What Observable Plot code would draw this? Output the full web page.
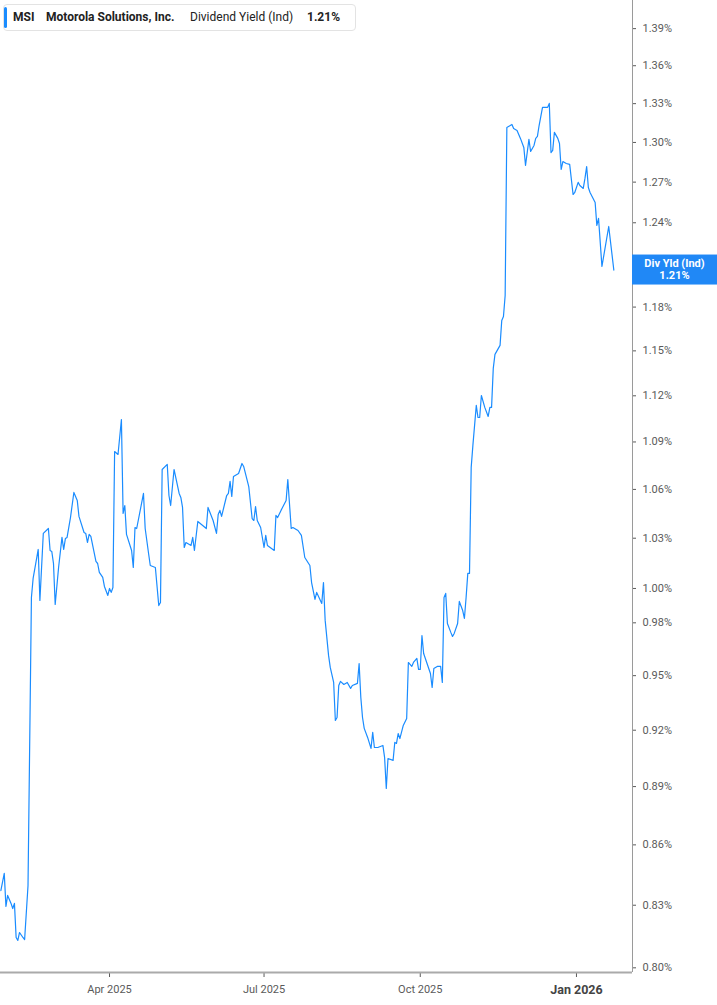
<!DOCTYPE html>
<html>
<head>
<meta charset="utf-8">
<script src="https://cdn.jsdelivr.net/npm/d3@7"></script>
<script src="https://cdn.jsdelivr.net/npm/@observablehq/plot@0.6"></script>
<style>
  html, body { margin: 0; padding: 0; background: #fff; }
  #wrap { position: relative; width: 717px; height: 1005px; font-family: Roboto, "Liberation Sans", sans-serif; }
  #legend { position: absolute; left: 3px; top: 4px; width: 353px; height: 27px; box-sizing: border-box;
            border: 1px solid #e3e3e3; border-radius: 4px; background: #fff; font-size: 12px; color: #222; }
  #legend .bar { position: absolute; left: 0px; top: 2px; width: 3px; height: 21px; background: #1a8cff; border-radius: 2px; }
  #legend span.t { position: absolute; top: 5px; white-space: nowrap; }
  #legend .b { font-weight: bold; }
</style>
</head>
<body>
<div id="wrap">
  <div id="chart"></div>
  <div id="legend"></div>
</div>
<script>
// ---- data ----
const ticker = "MSI";
const company = "Motorola Solutions, Inc.";
const metric = "Dividend Yield (Ind)";
const boxLabel = "Div Yld (Ind)";

const dates = [
  "2025-01-27","2025-01-29","2025-01-30","2025-01-31",
  "2025-02-02","2025-02-03","2025-02-04","2025-02-05","2025-02-06","2025-02-07","2025-02-09","2025-02-10","2025-02-12","2025-02-14","2025-02-15","2025-02-18","2025-02-19","2025-02-21","2025-02-24","2025-02-25","2025-02-26","2025-02-27","2025-02-28",
  "2025-03-02","2025-03-04","2025-03-05","2025-03-06","2025-03-07","2025-03-09","2025-03-11","2025-03-13","2025-03-14","2025-03-17","2025-03-18","2025-03-19","2025-03-20","2025-03-21","2025-03-24","2025-03-25","2025-03-26","2025-03-28","2025-03-29","2025-03-31",
  "2025-04-01","2025-04-02","2025-04-03","2025-04-04","2025-04-06","2025-04-08","2025-04-09","2025-04-10","2025-04-11","2025-04-14","2025-04-15","2025-04-16","2025-04-17","2025-04-21","2025-04-22","2025-04-24","2025-04-25","2025-04-28","2025-04-30",
  "2025-05-01","2025-05-02","2025-05-05","2025-05-06","2025-05-07","2025-05-09","2025-05-12","2025-05-13","2025-05-14","2025-05-15","2025-05-16","2025-05-19","2025-05-20","2025-05-21","2025-05-23","2025-05-28","2025-05-29",
  "2025-06-01","2025-06-03","2025-06-04","2025-06-05","2025-06-06","2025-06-09","2025-06-10","2025-06-11","2025-06-12","2025-06-13","2025-06-16","2025-06-18","2025-06-19","2025-06-22","2025-06-24","2025-06-25","2025-06-26","2025-06-27","2025-06-29",
  "2025-07-01","2025-07-02","2025-07-03","2025-07-07","2025-07-08","2025-07-09","2025-07-11","2025-07-14","2025-07-15","2025-07-17","2025-07-18","2025-07-21","2025-07-23","2025-07-25","2025-07-28","2025-07-29","2025-07-31",
  "2025-08-01","2025-08-04","2025-08-05","2025-08-06","2025-08-08","2025-08-09","2025-08-11","2025-08-12","2025-08-13","2025-08-14","2025-08-15","2025-08-17","2025-08-19","2025-08-21","2025-08-22","2025-08-25","2025-08-26","2025-08-27","2025-08-28","2025-08-29","2025-08-31",
  "2025-09-02","2025-09-03","2025-09-04","2025-09-06","2025-09-09","2025-09-10","2025-09-11","2025-09-12","2025-09-15","2025-09-16","2025-09-17","2025-09-18","2025-09-19","2025-09-21","2025-09-23","2025-09-24","2025-09-26","2025-09-27","2025-09-29","2025-09-30",
  "2025-10-01","2025-10-02","2025-10-03","2025-10-05","2025-10-07","2025-10-08","2025-10-09","2025-10-11","2025-10-13","2025-10-14","2025-10-15","2025-10-16","2025-10-17","2025-10-19","2025-10-20","2025-10-21","2025-10-23","2025-10-24","2025-10-26","2025-10-27","2025-10-28","2025-10-29","2025-10-30","2025-10-31",
  "2025-11-01","2025-11-03","2025-11-04","2025-11-05","2025-11-06","2025-11-08","2025-11-10","2025-11-11","2025-11-12","2025-11-13","2025-11-14","2025-11-17","2025-11-18","2025-11-19","2025-11-20","2025-11-21","2025-11-23","2025-11-24","2025-11-25","2025-11-27","2025-11-29",
  "2025-12-01","2025-12-02","2025-12-04","2025-12-05","2025-12-07","2025-12-08","2025-12-09","2025-12-10","2025-12-12","2025-12-14","2025-12-15","2025-12-16","2025-12-17","2025-12-18","2025-12-19","2025-12-21","2025-12-22","2025-12-23","2025-12-24","2025-12-26","2025-12-28","2025-12-30","2025-12-31",
  "2026-01-02","2026-01-03","2026-01-05","2026-01-06","2026-01-07","2026-01-08","2026-01-09","2026-01-12","2026-01-13","2026-01-14","2026-01-16","2026-01-20","2026-01-23"
];

const yieldPct = [
  0.8372,0.8457,0.8294,0.8348,
  0.8309,0.8284,0.8309,0.8144,0.8130,0.8168,0.8144,0.8134,0.8397,0.9947,1.0059,1.0232,0.9930,1.0329,1.0359,1.0226,1.0220,1.0148,0.9906,
  1.0124,1.0305,1.0232,1.0298,1.0305,1.0426,1.0581,1.0531,1.0433,1.0335,1.0329,1.0274,1.0323,1.0311,1.0160,1.0148,1.0095,1.0065,1.0012,0.9959,
  1.0000,0.9977,1.0006,1.0839,1.0820,1.1045,1.0451,1.0500,1.0323,1.0226,1.0124,1.0365,1.0359,1.0575,1.0359,1.0208,1.0136,1.0124,0.9900,
  0.9918,1.0725,1.0757,1.0562,1.0500,1.0725,1.0575,1.0550,1.0488,1.0244,1.0274,1.0256,1.0305,1.0226,1.0402,1.0359,1.0488,
  1.0408,1.0329,1.0445,1.0470,1.0433,1.0562,1.0575,1.0650,1.0556,1.0681,1.0700,1.0763,1.0744,1.0618,1.0420,1.0408,1.0494,1.0408,1.0365,
  1.0244,1.0317,1.0256,1.0226,1.0439,1.0426,1.0470,1.0531,1.0662,1.0359,1.0365,1.0347,1.0317,1.0184,1.0136,1.0035,0.9936,
  0.9977,0.9912,1.0035,0.9814,0.9614,0.9546,0.9462,0.9253,0.9269,0.9445,0.9468,0.9451,0.9462,0.9429,0.9445,0.9457,0.9568,0.9379,0.9269,0.9210,0.9161,
  0.9102,0.9188,0.9107,0.9107,0.9118,0.9054,0.8890,0.9048,0.9038,0.9134,0.9129,0.9182,0.9155,0.9226,0.9264,0.9574,0.9552,0.9574,0.9597,0.9535,
  0.9535,0.9727,0.9625,0.9568,0.9512,0.9434,0.9540,0.9552,0.9552,0.9462,0.9947,0.9971,0.9796,0.9745,0.9722,0.9739,0.9796,0.9924,0.9871,0.9825,0.9947,1.0089,1.0089,1.0738,
  1.0878,1.1137,1.1058,1.1058,1.1202,1.1124,1.1065,1.1124,1.1124,1.1382,1.1476,1.1537,1.1708,1.1735,1.1881,1.3115,1.3130,1.3138,1.3107,1.3092,1.3031,
  1.2962,1.2825,1.3023,1.2931,1.2977,1.3031,1.3046,1.3130,1.3271,1.3271,1.3271,1.3302,1.2923,1.2939,1.3077,1.3031,1.2992,1.2795,1.2855,1.2840,1.2833,1.2608,1.2623,
  1.2698,1.2675,1.2653,1.2728,1.2817,1.2660,1.2623,1.2549,1.2381,1.2432,1.2085,1.2373,1.2060
];

const yTicks = [0.80,0.83,0.86,0.89,0.92,0.95,0.98,1.00,1.03,1.06,1.09,1.12,1.15,1.18,1.24,1.27,1.30,1.33,1.36,1.39];
const xTickDates = ["2025-04-01","2025-07-01","2025-10-01","2026-01-01"];
const xTickLabels = ["Apr 2025","Jul 2025","Oct 2025","Jan 2026"];

// ---- build ----
if (dates.length !== yieldPct.length) console.error("length mismatch", dates.length, yieldPct.length);
const data = dates.map((d, i) => ({date: new Date(d + "T00:00:00Z"), value: yieldPct[i]}));
const xDomain = [new Date("2025-01-26T19:00:00Z"), new Date("2026-02-03T00:00:00Z")];
const yDomain = [0.7978, 1.4132];
const lineColor = "#1a8cff";
const fontFam = "Roboto, 'Liberation Sans', sans-serif";
const axisColor = "#5a5a5a";

const xTickObjs = xTickDates.map(d => new Date(d + "T00:00:00Z"));
const labelFor = d => xTickLabels[xTickObjs.findIndex(t => +t === +d)];

const chart = Plot.plot({
  width: 717,
  height: 1005,
  marginLeft: 0,
  marginRight: 85,
  marginTop: 0,
  marginBottom: 33,
  style: {fontFamily: fontFam, background: "#fff", overflow: "visible"},
  x: {type: "utc", domain: xDomain},
  y: {type: "log", domain: yDomain},
  marks: [
    Plot.axisY({anchor: "right", ticks: yTicks, text: null, tickSize: 3, color: axisColor, label: null}),
    Plot.text(yTicks, {y: d => d, text: d => d.toFixed(2) + "%", frameAnchor: "right", dx: 10,
                       textAnchor: "start", fontSize: 11, fill: axisColor}),
    Plot.axisX({ticks: xTickObjs, tickFormat: labelFor, tickSize: 5, tickPadding: 8,
                fontSize: 11, color: axisColor, label: null}),
    Plot.ruleY([yDomain[0]], {stroke: "#aaaaaa", strokeWidth: 2}),
    Plot.ruleX([xDomain[1]], {stroke: "#9a9a9a", strokeWidth: 1}),
    Plot.line(data, {x: "date", y: "value", stroke: lineColor, strokeWidth: 1.2})
  ]
});

document.getElementById("chart").appendChild(chart);

// emphasise the year label
d3.select(chart).selectAll("text").filter(function() { return this.textContent === "Jan 2026"; })
  .attr("font-weight", "bold").attr("font-size", 12.5).attr("fill", "#444");

// last-value box on the right axis
const last = data[data.length - 1];
const xs = chart.scale("x"), ys = chart.scale("y");
const cy = ys.apply(last.value);
const xr = xs.apply(xDomain[1]);
const boxW = 717 - xr;
const g = d3.select(chart).append("g").attr("font-family", fontFam);
g.append("rect").attr("x", xr).attr("y", cy - 15).attr("width", boxW).attr("height", 30).attr("fill", "#2088f6");
g.append("text").attr("x", xr + boxW / 2).attr("y", cy - 5).attr("text-anchor", "middle").attr("dominant-baseline", "middle")
  .attr("fill", "#fff").attr("font-size", 11).attr("font-weight", "bold").text(boxLabel);
g.append("text").attr("x", xr + boxW / 2).attr("y", cy + 7).attr("text-anchor", "middle").attr("dominant-baseline", "middle")
  .attr("fill", "#fff").attr("font-size", 11).attr("font-weight", "bold").text(last.value.toFixed(2) + "%");

// legend
const lg = document.getElementById("legend");
const items = [
  {text: ticker, left: 9, bold: true},
  {text: company, left: 42, bold: true},
  {text: metric, left: 186, bold: false},
  {text: last.value.toFixed(2) + "%", left: 303, bold: true}
];
const bar = document.createElement("span"); bar.className = "bar"; lg.appendChild(bar);
items.forEach(it => {
  const s = document.createElement("span");
  s.className = "t" + (it.bold ? " b" : "");
  s.style.left = it.left + "px";
  s.textContent = it.text;
  lg.appendChild(s);
});
</script>
</body>
</html>
